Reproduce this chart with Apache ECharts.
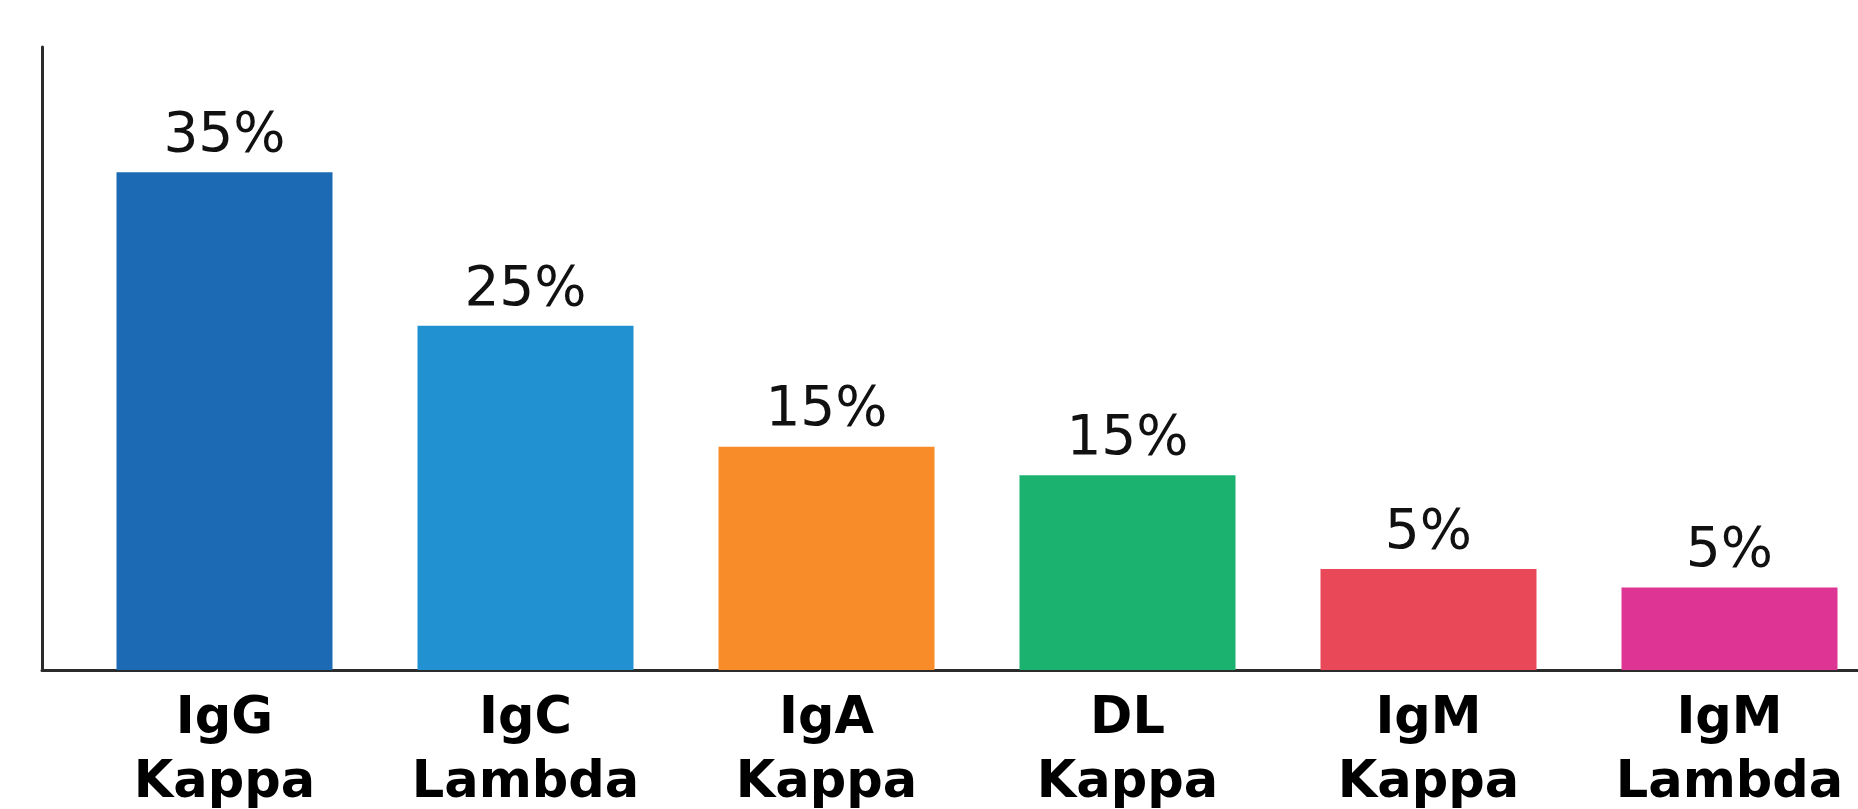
<!DOCTYPE html>
<html>
<head>
<meta charset="utf-8">
<script src="https://cdn.jsdelivr.net/npm/echarts@6/dist/echarts.min.js"></script>
<style>
  html, body { margin: 0; padding: 0; background: #fff; }
  #main { width: 1858px; height: 809px; }
</style>
</head>
<body>
<div id="main"></div>
<script>
// categories (two-line labels)
const categories = ['IgG\nKappa', 'IgC\nLambda', 'IgA\nKappa', 'DL\nKappa', 'IgM\nKappa', 'IgM\nLambda'];
// bar heights as drawn in the picture
const barValues = [35, 24.2, 15.7, 13.7, 7.1, 5.8];
// text printed above each bar
const pctLabels = ['35%', '25%', '15%', '15%', '5%', '5%'];
const barColors = ['#1b6ab3', '#2191d1', '#f88c28', '#1bb26f', '#e84858', '#de3594'];

const chart = echarts.init(document.getElementById('main'));

chart.setOption({
    animation: false,
    backgroundColor: '#fff',
    grid: [
        // bars
        { left: 74, width: 1806, top: 47, bottom: 139, outerBoundsMode: 'none' },
        // just the axis lines, a bit left of the bars
        { left: 42, right: 0, top: 47, bottom: 139, outerBoundsMode: 'none' }
    ],
    xAxis: [
        {
            type: 'category',
            gridIndex: 0,
            data: categories,
            axisLine: { show: false },
            axisTick: { show: false },
            axisLabel: {
                margin: 18,
                color: '#000',
                fontFamily: 'DejaVu Sans',
                fontWeight: 'bold',
                fontSize: 51,
                lineHeight: 64,
                interval: 0
            }
        },
        {
            type: 'value',
            gridIndex: 1,
            axisLine: { show: true, lineStyle: { color: '#2b2b2b', width: 3 } },
            axisTick: { show: false },
            axisLabel: { show: false },
            splitLine: { show: false }
        }
    ],
    yAxis: [
        {
            type: 'value',
            gridIndex: 0,
            min: 0,
            max: 43.8,
            show: false
        },
        {
            type: 'value',
            gridIndex: 1,
            axisLine: { show: true, lineStyle: { color: '#2b2b2b', width: 3 } },
            axisTick: { show: false },
            axisLabel: { show: false },
            splitLine: { show: false }
        }
    ],
    series: [
        {
            type: 'bar',
            xAxisIndex: 0,
            yAxisIndex: 0,
            barWidth: 216,
            data: barValues.map((v, i) => ({ value: v, itemStyle: { color: barColors[i] } })),
            label: {
                show: true,
                position: 'top',
                distance: 8,
                color: '#111',
                fontFamily: 'DejaVu Sans',
                fontSize: 55,
                formatter: p => pctLabels[p.dataIndex]
            }
        }
    ]
});
</script>
</body>
</html>
